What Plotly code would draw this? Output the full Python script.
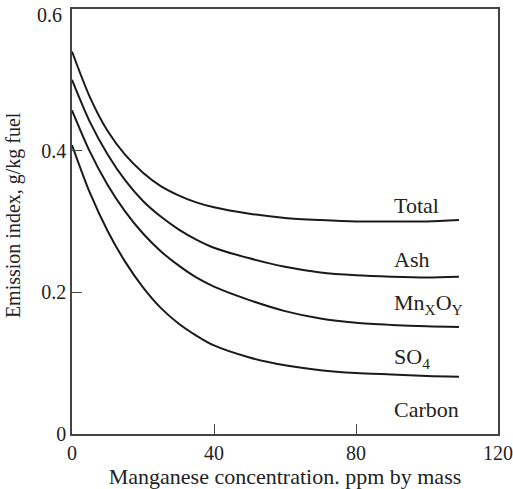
import plotly.graph_objects as go

# Manganese concentration (ppm by mass)
x_vals = [0, 5, 10, 15, 20, 25, 30, 35, 40, 50, 60, 70, 80, 90, 100, 109]

total = [0.540, 0.476, 0.428, 0.394, 0.369, 0.350, 0.337, 0.327, 0.320, 0.311, 0.305, 0.302, 0.300, 0.300, 0.300, 0.302]
ash = [0.500, 0.441, 0.395, 0.358, 0.329, 0.307, 0.289, 0.2745, 0.263, 0.248, 0.236, 0.228, 0.224, 0.222, 0.221, 0.222]
mnxoy = [0.457, 0.399, 0.352, 0.314, 0.283, 0.258, 0.238, 0.221, 0.208, 0.189, 0.1735, 0.163, 0.157, 0.154, 0.152, 0.151]
so4 = [0.408, 0.341, 0.287, 0.243, 0.207, 0.178, 0.156, 0.139, 0.125, 0.108, 0.097, 0.090, 0.086, 0.084, 0.082, 0.081]

series_names = ["Total", "Ash", "Mn<sub>X</sub>O<sub>Y</sub>", "SO<sub>4</sub>", "Carbon"]
label_x = 90.2
label_y = [0.323, 0.2457, 0.183, 0.107, 0.034]

x_ticks = [0, 40, 80, 120]
y_ticks = [0, 0.2, 0.4, 0.6]
y_ticktext = ["0", "0.2", "0.4", ""]
y_top_label = "0.6"

FONT = "Liberation Serif"
fig = go.Figure()
for name, ys in zip(series_names[:4], [total, ash, mnxoy, so4]):
    fig.add_trace(go.Scatter(x=x_vals, y=ys, mode="lines", name=name,
                             line=dict(color="#1a1a1a", width=2, shape="spline", smoothing=0.8),
                             showlegend=False, hoverinfo="skip"))

for name, ly in zip(series_names, label_y):
    fig.add_annotation(x=label_x, y=ly, text=name, showarrow=False,
                       xanchor="left", yanchor="middle",
                       font=dict(family=FONT, size=22, color="#222"))

# top y tick label, kept inside the page (sits just below the top edge as in the reference)
fig.add_annotation(xref="paper", yref="y", x=-0.018, y=y_ticks[-1], text=y_top_label,
                   showarrow=False, xanchor="right", yanchor="top", yshift=7,
                   font=dict(family=FONT, size=20, color="#222"))

# y-axis title placed as a rotated annotation to match the reference position
fig.add_annotation(xref="paper", yref="paper", x=-0.1385, y=0.515,
                   text="Emission index, g/kg fuel", textangle=-90, showarrow=False,
                   xanchor="center", yanchor="middle",
                   font=dict(family=FONT, size=20, color="#222"))

axis_common = dict(showline=True, linecolor="#444", linewidth=1.5, mirror=True,
                   ticks="inside", ticklen=10, tickcolor="#444", tickwidth=1.2,
                   showgrid=False, zeroline=False, automargin=False,
                   ticklabeloverflow="allow",
                   tickfont=dict(family=FONT, size=20, color="#222"))

fig.update_layout(
    width=513, height=489,
    margin=dict(l=72, r=15, t=9, b=55),
    paper_bgcolor="white", plot_bgcolor="white",
    xaxis=dict(range=[0, 120], tickvals=x_ticks, ticktext=[str(v) for v in x_ticks],
               title=dict(text="Manganese concentration. ppm by mass",
                          font=dict(family=FONT, size=22, color="#222"), standoff=0),
               **axis_common),
    yaxis=dict(range=[0, 0.6], tickvals=y_ticks, ticktext=y_ticktext,
               **axis_common),
)

fig.write_html("out.html", config={"displayModeBar": False},
               post_script="document.body.style.margin='0';document.body.style.overflow='hidden';")
